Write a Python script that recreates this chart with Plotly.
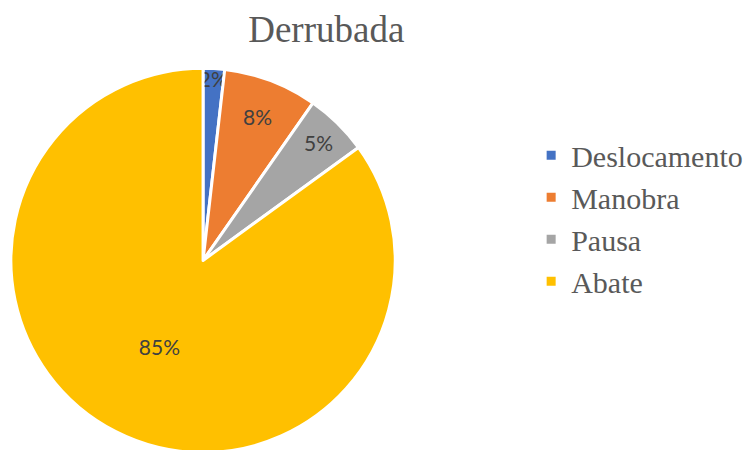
import plotly.graph_objects as go

categories = ["Deslocamento", "Manobra", "Pausa", "Abate"]
values = [1.8, 7.9, 5.3, 85.0]
colors = ["#4472C4", "#ED7D31", "#A5A5A5", "#FFC000"]

fig = go.Figure(go.Pie(
    labels=categories,
    values=values,
    sort=False,
    direction="clockwise",
    rotation=0,
    marker=dict(colors=colors, line=dict(color="white", width=3)),
    texttemplate="%{percent:.0%}",
    textposition="inside",
    insidetextorientation="horizontal",
    textfont=dict(family="Lato", size=21, color="#404040"),
    hoverinfo="skip",
    domain=dict(x=[0.002, 0.514], y=[0.012, 0.866]),
))

fig.update_layout(
    width=756, height=450,
    margin=dict(l=0, r=0, t=0, b=0),
    paper_bgcolor="white",
    plot_bgcolor="white",
    title=dict(text="Derrubada", x=0.421, xanchor="center", y=0.953, yanchor="middle",
               font=dict(family="Liberation Serif", size=37, color="#595959")),
    uniformtext=dict(minsize=21, mode="show"),
    legend=dict(x=0.692, xanchor="left", y=0.533, yanchor="middle",
                font=dict(family="Liberation Serif", size=30, color="#595959"),
                itemwidth=30),
    showlegend=True,
)

fig.write_html("out.html")
